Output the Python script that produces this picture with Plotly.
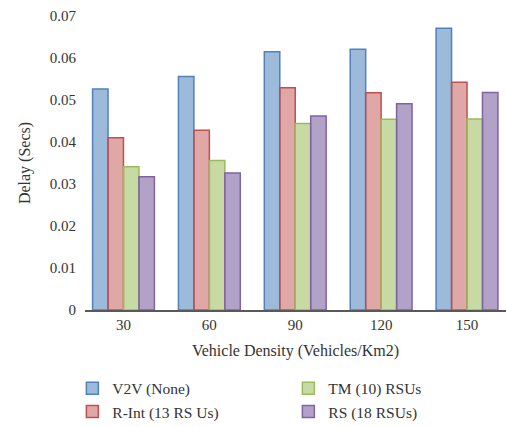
import plotly.graph_objects as go

densities = ["30", "60", "90", "120", "150"]
v2v = [0.0526, 0.0556, 0.0615, 0.0621, 0.0671]
r_int = [0.0410, 0.0428, 0.0529, 0.0517, 0.0542]
tm = [0.0341, 0.0356, 0.0444, 0.0454, 0.0455]
rs = [0.0317, 0.0326, 0.0462, 0.0491, 0.0518]

series = [
    ("V2V (None)", v2v, "rgba(79,129,189,0.55)", "#4f81bd", 1),
    ("R-Int (13 RS Us)", r_int, "rgba(192,80,77,0.5)", "#c0504d", 3),
    ("TM (10) RSUs", tm, "rgba(155,187,89,0.55)", "#9bbb59", 2),
    ("RS (18 RSUs)", rs, "rgba(128,100,162,0.6)", "#8064a2", 4),
]

FONT = "Liberation Serif"

fig = go.Figure()
for name, vals, fill, edge, rank in series:
    fig.add_trace(go.Bar(
        x=list(range(len(densities))), y=vals, name=name,
        marker=dict(color=fill, line=dict(color=edge, width=1.5)),
        legendrank=rank,
    ))

fig.update_layout(
    width=506, height=427,
    margin=dict(l=85, r=0, t=16, b=117, autoexpand=False),
    paper_bgcolor="white", plot_bgcolor="white",
    barmode="group", bargap=0.28, bargroupgap=0,
    font=dict(family=FONT, size=15, color="#333333"),
    xaxis=dict(
        tickmode="array", tickvals=list(range(len(densities))), ticktext=densities,
        range=[-0.448, 4.454], showline=True, linecolor="#595959", linewidth=2,
        showgrid=False, zeroline=False, ticks="", automargin=False,
        title=dict(text="Vehicle Density (Vehicles/Km2)", standoff=13,
                   font=dict(family=FONT, size=16)),
    ),
    yaxis=dict(
        range=[0, 0.07], showgrid=False, zeroline=False, showline=False, ticks="",
        automargin=False, ticklabelstandoff=8,
        tickvals=[0, 0.01, 0.02, 0.03, 0.04, 0.05, 0.06, 0.07],
        ticktext=["0", "0.01", "0.02", "0.03", "0.04", "0.05", "0.06", "0.07"],
        title=dict(text="Delay (Secs)", standoff=15, font=dict(family=FONT, size=16)),
    ),
    legend=dict(
        orientation="h", x=-0.03, xanchor="left", y=-0.21, yanchor="top",
        entrywidth=171, entrywidthmode="pixels",
        font=dict(family=FONT, size=15.5), tracegroupgap=0,
    ),
)

fig.write_html("out.html")
